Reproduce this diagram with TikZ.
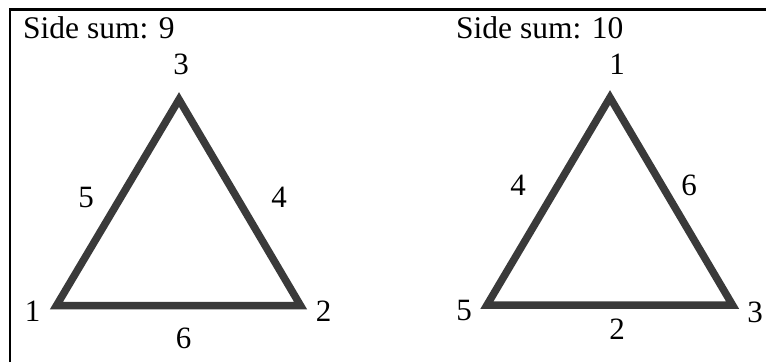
\documentclass[tikz,border=0pt]{standalone}
\usepackage{fontspec}
\setmainfont{Liberation Serif}
\definecolor{tri}{RGB}{58,58,58}
\begin{document}
\begin{tikzpicture}[x=1pt,y=-1pt,
  lab/.style={inner sep=0pt,font=\fontsize{31}{36}\selectfont},
  ttl/.style={inner sep=0pt,anchor=base west,font=\fontsize{31.5}{36}\selectfont},
  edge/.style={draw=tri,line width=7.5pt,line join=miter,miter limit=10}]
\useasboundingbox (0,0) rectangle (766,362);
\draw[line width=2.5pt] (10,362) -- (10,9.5) -- (766,9.5);
% titles
\node[ttl] (t1) at (23,38) {Side sum: 9};
\node[ttl] (t2) at (456,38) {Side sum: 10};
% triangle 1
\coordinate (a1) at (179,99.5);
\coordinate (b1) at (56.5,305.5);
\coordinate (c1) at (300.5,305.5);
\draw[edge] (a1) -- (b1) -- (c1) -- cycle;
\node[lab] (v13) at (181,64.5) {3};
\node[lab] (v11) at (32.5,311.5) {1};
\node[lab] (v12) at (323.5,311) {2};
\node[lab] (s15) at (86,197) {5};
\node[lab] (s14) at (279,197) {4};
\node[lab] (s16) at (183.5,338) {6};
% triangle 2
\coordinate (a2) at (610,97.5);
\coordinate (b2) at (487,305);
\coordinate (c2) at (732.5,305);
\draw[edge] (a2) -- (b2) -- (c2) -- cycle;
\node[lab] (v21) at (617,64.5) {1};
\node[lab] (v25) at (464,310.5) {5};
\node[lab] (v23) at (755,312) {3};
\node[lab] (s24) at (518,185) {4};
\node[lab] (s26) at (689,185) {6};
\node[lab] (s22) at (617,329) {2};
\end{tikzpicture}
\end{document}
